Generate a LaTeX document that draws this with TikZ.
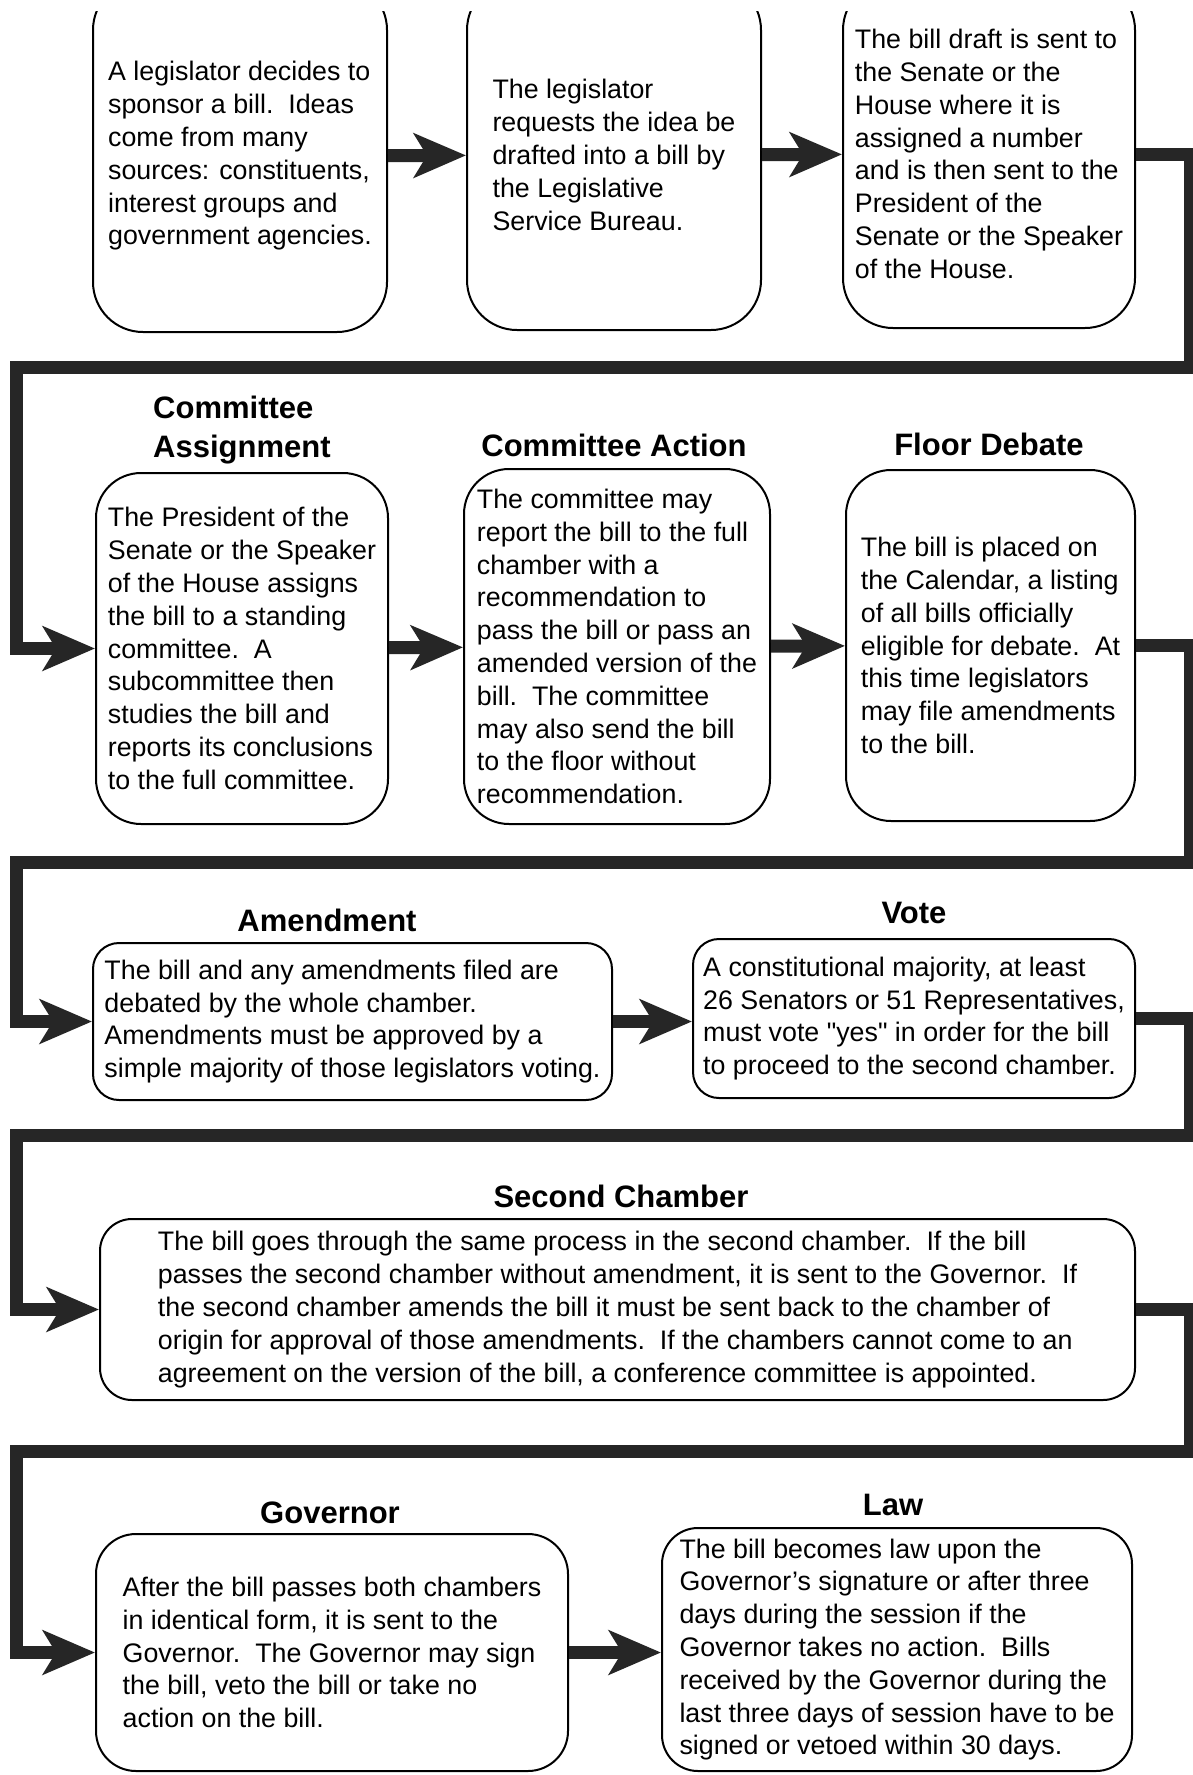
\documentclass[tikz,border=0pt]{standalone}
\usepackage{fontspec}
\setmainfont{Liberation Sans}
\usetikzlibrary{arrows.meta}
\definecolor{ink}{gray}{0.15}
\begin{document}
\begin{tikzpicture}[x=1pt,y=-1pt,
  stepbox/.style={draw=black, line width=2pt, fill=white, align=left, inner sep=0pt,
    font=\fontsize{26.8pt}{32.8pt}\selectfont},
  heading/.style={font=\bfseries\fontsize{31pt}{39pt}\selectfont, inner sep=0pt, align=left},
  flow/.style={draw=ink, line width=13pt, line join=miter,
    -{Stealth[length=52pt,width=44pt,inset=13pt]}},
]
\fill[white] (0,0) rectangle (1193,1775);
\useasboundingbox (0,0) rectangle (1193,1775);

% ---- row 1: introduction and drafting (box tops run off the upper edge)
\begin{scope}
\clip (0,11) rectangle (1193,1775);
\node[stepbox, minimum width=294pt, minimum height=352pt, rounded corners=50pt] (b1) at (240,156)
  {A legislator decides to\\ sponsor a bill.\ \ Ideas\\ come from many\\ sources: constituents,\\ interest groups and\\ government agencies.};
\node[stepbox, minimum width=294pt, minimum height=350pt, rounded corners=50pt] (b2) at (614,155)
  {The legislator\\ requests the idea be\\ drafted into a bill by\\ the Legislative\\ Service Bureau.};
\node[stepbox, minimum width=292pt, minimum height=348pt, rounded corners=50pt] (b3) at (989,154)
  {The bill draft is sent to\\ the Senate or the\\ House where it is\\ assigned a number\\ and is then sent to the\\ President of the\\ Senate or the Speaker\\ of the House.};
\end{scope}

% ---- row 2: committee stage and floor
\node[heading, anchor=west] (t4) at (153,430) {Committee\\ Assignment};
\node[heading] (t5) at (614,445) {Committee Action};
\node[heading] (t6) at (989,444) {Floor Debate};
\node[stepbox, minimum width=292pt, minimum height=351pt, rounded corners=45pt] (b4) at (242,648.5)
  {The President of the\\ Senate or the Speaker\\ of the House assigns\\ the bill to a standing\\ committee.\ \ A\\ subcommittee then\\ studies the bill and\\ reports its conclusions\\ to the full committee.};
\node[stepbox, minimum width=306pt, minimum height=355pt, rounded corners=45pt] (b5) at (617,646.5)
  {The committee may\\ report the bill to the full\\ chamber with a\\ recommendation to\\ pass the bill or pass an\\ amended version of the\\ bill.\ \ The committee\\ may also send the bill\\ to the floor without\\ recommendation.};
\node[stepbox, minimum width=289pt, minimum height=351pt, rounded corners=45pt] (b6) at (990.5,645.5)
  {The bill is placed on\\ the Calendar, a listing\\ of all bills officially\\ eligible for debate.\ \ At\\ this time legislators\\ may file amendments\\ to the bill.};

% ---- row 3: amendment and vote
\node[heading] (t7) at (327,920) {Amendment};
\node[heading] (t8) at (914,913) {Vote};
\node[stepbox, minimum width=519pt, minimum height=157pt, rounded corners=26pt] (b7) at (352.5,1021.5)
  {The bill and any amendments filed are\\ debated by the whole chamber.\\ Amendments must be approved by a\\ simple majority of those legislators voting.};
\node[stepbox, minimum width=442pt, minimum height=159pt, rounded corners=26pt] (b8) at (914,1018.5)
  {A constitutional majority, at least\\ 26 Senators or 51 Representatives,\\ must vote \textquotedbl yes\textquotedbl\ in order for the bill\\ to proceed to the second chamber.};

% ---- row 4: second chamber
\node[heading] (t9) at (621,1196) {Second Chamber};
\node[stepbox, minimum width=1035pt, minimum height=181pt, rounded corners=32pt] (b9) at (617.5,1309.5)
  {The bill goes through the same process in the second chamber.\ \ If the bill\\ passes the second chamber without amendment, it is sent to the Governor.\ \ If\\ the second chamber amends the bill it must be sent back to the chamber of\\ origin for approval of those amendments.\ \ If the chambers cannot come to an\\ agreement on the version of the bill, a conference committee is appointed.};

% ---- row 5: governor and law
\node[heading] (t10) at (330,1513) {Governor};
\node[heading] (t11) at (893,1505) {Law};
\node[stepbox, minimum width=472pt, minimum height=237pt, rounded corners=40pt] (b10) at (332,1652.5)
  {After the bill passes both chambers\\ in identical form, it is sent to the\\ Governor.\ \ The Governor may sign\\ the bill, veto the bill or take no\\ action on the bill.};
\node[stepbox, minimum width=470pt, minimum height=243pt, rounded corners=36pt] (b11) at (897,1649.5)
  {The bill becomes law upon the\\ Governor’s signature or after three\\ days during the session if the\\ Governor takes no action.\ \ Bills\\ received by the Governor during the\\ last three days of session have to be\\ signed or vetoed within 30 days.};

% ---- arrows within a row
\draw[flow] (b1) -- (b2);
\draw[flow] (b2) -- (b3);
\draw[flow] (b4) -- (b5);
\draw[flow] (b5) -- (b6);
\draw[flow] (b7.east) -- (b8.west |- b7.east);
\draw[flow] (b10.east) -- (b11.west |- b10.east);

% ---- return rails from the right edge to the next row
\coordinate (r1) at (1190,367);  \coordinate (l1) at (16,367);
\coordinate (r2) at (1190,862);  \coordinate (l2) at (16,862);
\coordinate (r3) at (1190,1135); \coordinate (l3) at (16,1135);
\coordinate (r4) at (1190,1451); \coordinate (l4) at (16,1451);
\draw[flow] (b3.east) -| (r1) -- (l1) |- (b4.west);
\draw[flow] (b6.east) -| (r2) -- (l2) |- (b7.west);
\draw[flow] (b8.east) -| (r3) -- (l3) |- (b9.west);
\draw[flow] (b9.east) -| (r4) -- (l4) |- (b10.west);
\end{tikzpicture}
\end{document}
